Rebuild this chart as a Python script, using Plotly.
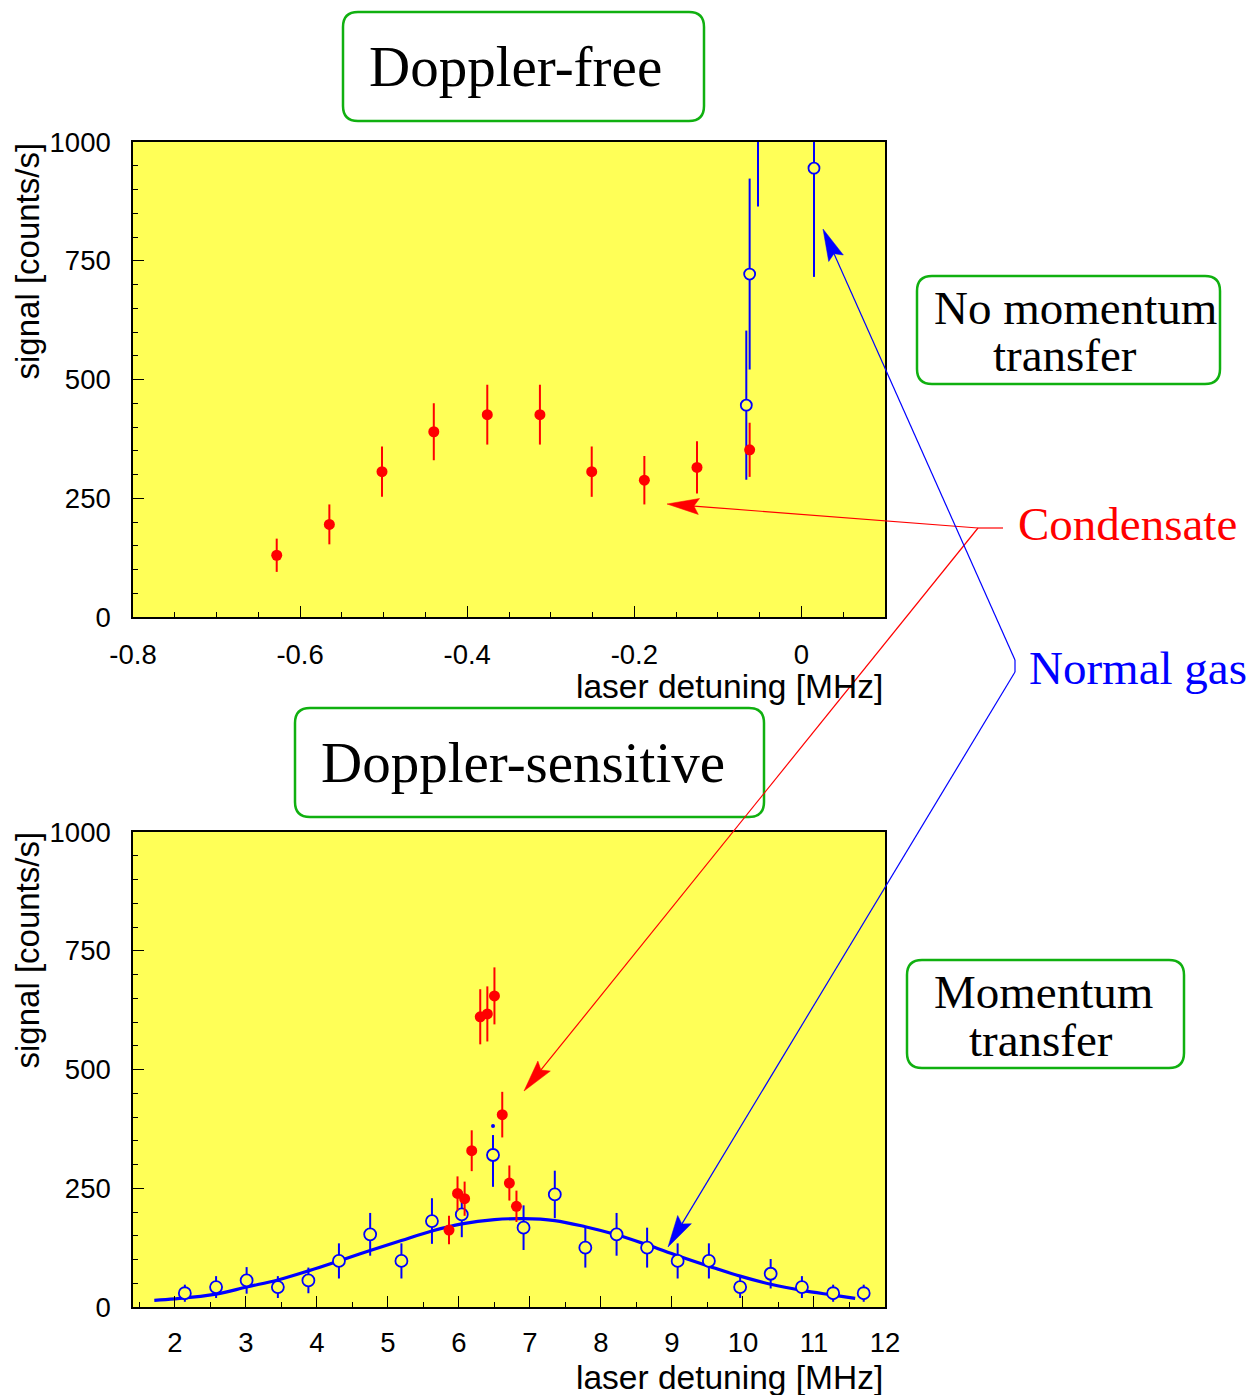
import plotly.graph_objects as go

W, H = 1260, 1395

# ---------------- data ----------------
# Top panel: Doppler-free
top_red_x = [-0.628, -0.565, -0.502, -0.440, -0.376, -0.313, -0.251, -0.188, -0.125, -0.062]
top_red_y = [130, 195, 306, 390, 426, 426, 306, 288, 315, 352]
top_red_err = [35, 42, 53, 60, 63, 63, 53, 51, 55, 57]

top_blue_x = [-0.066, -0.062, -0.052, 0.015]
top_blue_y = [446, 722, 1100, 945]
top_blue_err = [157, 201, 236, 229]

# Bottom panel: Doppler-sensitive
bot_blue_x = [2.14, 2.58, 3.01, 3.45, 3.88, 4.31, 4.75, 5.19, 5.62, 6.04, 6.48, 6.91,
              7.35, 7.78, 8.22, 8.65, 9.08, 9.52, 9.96, 10.39, 10.83, 11.27, 11.70]
bot_blue_y = [29, 42, 56, 42, 56, 97, 153, 97, 181, 195, 320, 167,
              237, 125, 153, 125, 97, 97, 42, 70, 42, 29, 29]
bot_blue_err_plus = [18, 23, 28, 23, 27, 37, 45, 37, 48, 48, 42, 47,
                     50, 42, 45, 42, 37, 37, 23, 31, 23, 18, 18]
bot_blue_err_minus = [18, 23, 28, 23, 27, 37, 45, 37, 48, 48, 67, 47,
                      50, 42, 45, 42, 37, 37, 23, 31, 23, 18, 18]
bot_blue_dot_x = [6.48]
bot_blue_dot_y = [381]

bot_red_x = [5.86, 5.98, 6.08, 6.18, 6.30, 6.40, 6.50, 6.61, 6.71, 6.81]
bot_red_y = [162, 239, 228, 329, 611, 617, 655, 405, 261, 212]
bot_red_err = [30, 36, 36, 43, 58, 58, 60, 48, 37, 33]

fit_x = [1.71, 2.0, 2.58, 3.01, 3.45, 3.88, 4.31, 4.75, 5.19, 5.62, 6.04, 6.5, 6.9,
         7.35, 7.78, 8.22, 8.65, 9.08, 9.52, 9.96, 10.39, 10.83, 11.27, 11.58]
fit_y = [14, 17, 27, 42, 57, 76, 97, 119, 140, 160, 175, 184, 186,
         182, 169, 152, 131, 108, 86, 65, 48, 35, 25, 18]

top_xtick_vals = [-0.8, -0.6, -0.4, -0.2, 0]
top_xtick_text = ["-0.8", "-0.6", "-0.4", "-0.2", "0"]
bot_xtick_vals = [2, 3, 4, 5, 6, 7, 8, 9, 10, 11, 12]
bot_xtick_text = ["2", "3", "4", "5", "6", "7", "8", "9", "10", "11", "12"]
ytick_vals = [0, 250, 500, 750, 1000]
ytick_text = ["0", "250", "500", "750", "1000"]

# ---------------- styles ----------------
YELLOW = "#ffff57"
BLUE = "#0000ff"
RED = "#ff0000"
GREEN = "#10b010"
SANS = "Liberation Sans, Arial, sans-serif"
SERIF = "Liberation Serif, Times New Roman, serif"


def X(px):
    return px / W


def Y(py):
    return 1 - py / H


fig = go.Figure()

# top panel traces
fig.add_trace(go.Scatter(
    x=top_blue_x, y=top_blue_y, mode="markers", xaxis="x", yaxis="y",
    marker=dict(symbol="circle", size=11, color=YELLOW, line=dict(color=BLUE, width=1.8)),
    error_y=dict(type="data", array=top_blue_err, color=BLUE, thickness=2, width=0),
    showlegend=False))
fig.add_trace(go.Scatter(
    x=top_red_x, y=top_red_y, mode="markers", xaxis="x", yaxis="y",
    marker=dict(symbol="circle", size=11, color=RED),
    error_y=dict(type="data", array=top_red_err, color=RED, thickness=2, width=0),
    showlegend=False))

# bottom panel traces
fig.add_trace(go.Scatter(
    x=fit_x, y=fit_y, mode="lines", xaxis="x2", yaxis="y2",
    line=dict(color=BLUE, width=3.2, shape="spline"), showlegend=False))
fig.add_trace(go.Scatter(
    x=bot_blue_x, y=bot_blue_y, mode="markers", xaxis="x2", yaxis="y2",
    marker=dict(symbol="circle", size=12, color=YELLOW, line=dict(color=BLUE, width=1.8)),
    error_y=dict(type="data", symmetric=False, array=bot_blue_err_plus,
                 arrayminus=bot_blue_err_minus, color=BLUE, thickness=2, width=0),
    showlegend=False))
fig.add_trace(go.Scatter(
    x=bot_blue_dot_x, y=bot_blue_dot_y, mode="markers", xaxis="x2", yaxis="y2",
    marker=dict(symbol="circle", size=4, color=BLUE), showlegend=False))
fig.add_trace(go.Scatter(
    x=bot_red_x, y=bot_red_y, mode="markers", xaxis="x2", yaxis="y2",
    marker=dict(symbol="circle", size=11, color=RED),
    error_y=dict(type="data", array=bot_red_err, color=RED, thickness=2, width=0),
    showlegend=False))

axis_common = dict(showline=True, mirror=True, linecolor="black", linewidth=1.5,
                   ticks="inside", ticklen=11, tickwidth=1.3, tickcolor="black",
                   showgrid=False, zeroline=False, automargin=False,
                   tickfont=dict(family=SANS, size=27.5, color="black"))

fig.update_layout(
    width=W, height=H, autosize=False,
    margin=dict(l=0, r=0, t=0, b=0, pad=0),
    paper_bgcolor="white", plot_bgcolor=YELLOW,
    xaxis=dict(domain=[X(133), X(885)], range=[-0.8, 0.1], anchor="y",
               tickmode="array", tickvals=top_xtick_vals, ticktext=top_xtick_text,
               ticklabelstandoff=12,
               minor=dict(tickmode="linear", tick0=-0.8, dtick=0.05, ticks="inside",
                          ticklen=5, tickwidth=1, tickcolor="black"),
               **axis_common),
    yaxis=dict(domain=[Y(617), Y(142)], range=[0, 1000], anchor="x",
               tickmode="array", tickvals=ytick_vals, ticktext=ytick_text,
               ticklabelstandoff=15,
               minor=dict(tickmode="linear", tick0=0, dtick=50, ticks="inside",
                          ticklen=5, tickwidth=1, tickcolor="black"),
               **axis_common),
    xaxis2=dict(domain=[X(133), X(885)], range=[1.41, 12], anchor="y2",
                tickmode="array", tickvals=bot_xtick_vals, ticktext=bot_xtick_text,
                ticklabelstandoff=10,
                minor=dict(tickmode="linear", tick0=0, dtick=0.5, ticks="inside",
                           ticklen=5, tickwidth=1, tickcolor="black"),
                **axis_common),
    yaxis2=dict(domain=[Y(1307), Y(832)], range=[0, 1000], anchor="x2",
                tickmode="array", tickvals=ytick_vals, ticktext=ytick_text,
                ticklabelstandoff=15,
                minor=dict(tickmode="linear", tick0=0, dtick=50, ticks="inside",
                           ticklen=5, tickwidth=1, tickcolor="black"),
                **axis_common),
)

shapes = []
annotations = []


def rbox(x0, y0, x1, y1, r=15):
    pts = [
        f"M{X(x0 + r)},{Y(y0)}", f"L{X(x1 - r)},{Y(y0)}",
        f"Q{X(x1)},{Y(y0)} {X(x1)},{Y(y0 + r)}", f"L{X(x1)},{Y(y1 - r)}",
        f"Q{X(x1)},{Y(y1)} {X(x1 - r)},{Y(y1)}", f"L{X(x0 + r)},{Y(y1)}",
        f"Q{X(x0)},{Y(y1)} {X(x0)},{Y(y1 - r)}", f"L{X(x0)},{Y(y0 + r)}",
        f"Q{X(x0)},{Y(y0)} {X(x0 + r)},{Y(y0)}", "Z"]
    shapes.append(dict(type="path", xref="paper", yref="paper", path=" ".join(pts),
                       line=dict(color=GREEN, width=2.5), fillcolor="rgba(0,0,0,0)",
                       layer="above"))


def seg(x0, y0, x1, y1, color, width=1.2):
    shapes.append(dict(type="line", xref="paper", yref="paper",
                       x0=X(x0), y0=Y(y0), x1=X(x1), y1=Y(y1),
                       line=dict(color=color, width=width), layer="above"))


def arrow(tx, ty, hx, hy, color, length=32, half=8, notch=5):
    dx, dy = tx - hx, ty - hy
    d = (dx * dx + dy * dy) ** 0.5
    ux, uy = dx / d, dy / d          # unit vector tip -> tail
    nx, ny = -uy, ux                 # normal
    bx, by = hx + ux * length, hy + uy * length
    cx, cy = hx + ux * (length - notch), hy + uy * (length - notch)
    seg(tx, ty, cx, cy, color)
    p1 = (bx + nx * half, by + ny * half)
    p2 = (bx - nx * half, by - ny * half)
    path = (f"M{X(hx)},{Y(hy)} L{X(p1[0])},{Y(p1[1])} L{X(cx)},{Y(cy)} "
            f"L{X(p2[0])},{Y(p2[1])} Z")
    shapes.append(dict(type="path", xref="paper", yref="paper", path=path,
                       line=dict(color=color, width=0.5), fillcolor=color, layer="above"))


def text(px, py, s, size, color="black", family=SERIF, xanchor="center", angle=0, yanchor="middle"):
    annotations.append(dict(x=X(px), y=Y(py), xref="paper", yref="paper", text=s,
                            showarrow=False, xanchor=xanchor, yanchor=yanchor,
                            textangle=angle, font=dict(family=family, size=size, color=color)))


# boxes and labels
rbox(343, 12, 704, 121)
text(515, 66, "Doppler-free", 57)
rbox(917, 276, 1220, 384)
text(1075, 308, "No momentum", 47)
text(1065, 355, "transfer", 47)
rbox(295, 708, 764, 817)
text(523, 762, "Doppler-sensitive", 57)
rbox(907, 960, 1184, 1068)
text(1043, 992, "Momentum", 47)
text(1041, 1040, "transfer", 47)

text(1127, 524, "Condensate", 47, color=RED)
text(1138, 668, "Normal gas", 47, color=BLUE)

# axis titles
text(885, 686, "laser detuning [MHz]", 33.5, family=SANS, xanchor="right")
text(885, 1377, "laser detuning [MHz]", 33.5, family=SANS, xanchor="right")
text(27, 141, "signal [counts/s]", 33, family=SANS, angle=-90, yanchor="top")
text(27, 830, "signal [counts/s]", 33, family=SANS, angle=-90, yanchor="top")

# arrows: Condensate (red)
seg(1003, 528, 978, 528, RED)
arrow(978, 528, 667, 504, RED)
arrow(978, 528, 524, 1091, RED)
# arrows: Normal gas (blue)
seg(1015, 660, 1015, 672, BLUE)
arrow(1015, 660, 823, 229, BLUE)
arrow(1015, 672, 668, 1247, BLUE)

fig.update_layout(shapes=shapes, annotations=annotations)

fig.write_html("out.html", config={"displayModeBar": False},
               post_script="document.body.style.margin='0';")
